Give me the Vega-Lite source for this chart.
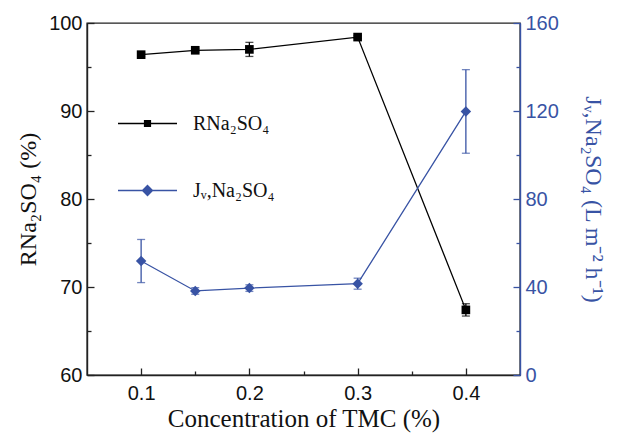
{
  "$schema": "https://vega.github.io/schema/vega-lite/v6.json",
  "width": 433,
  "height": 352,
  "autosize": {"type": "none"},
  "padding": {"left": 87, "top": 23, "right": 102, "bottom": 59},
  "background": "white",
  "config": {
    "view": {"stroke": "#222222", "strokeWidth": 1.4},
    "font": "Liberation Sans",
    "axis": {"grid": false, "ticks": true, "labelFontSize": 20, "labelFont": "Liberation Sans", "titleFont": "Liberation Serif", "titleFontWeight": "normal", "domainWidth": 1.4, "tickWidth": 1.3}
  },
  "datasets": {
    "r": [
      {"series": "R", "c": 0.1, "v": 96.4, "e": 0.2},
      {"series": "R", "c": 0.15, "v": 96.9, "e": 0.2},
      {"series": "R", "c": 0.2, "v": 97.0, "e": 0.8},
      {"series": "R", "c": 0.3, "v": 98.4, "e": 0.15},
      {"series": "R", "c": 0.4, "v": 67.4, "e": 0.7}
    ],
    "j": [
      {"series": "J", "c": 0.1, "v": 51.8, "e": 9.8},
      {"series": "J", "c": 0.15, "v": 38.2, "e": 1.5},
      {"series": "J", "c": 0.2, "v": 39.5, "e": 1.5},
      {"series": "J", "c": 0.3, "v": 41.5, "e": 2.5},
      {"series": "J", "c": 0.4, "v": 119.8, "e": 19}
    ]
  },
  "layer": [
    {
      "data": {"name": "r"},
      "encoding": {
        "x": {
          "field": "c", "type": "quantitative",
          "scale": {"domain": [0.05, 0.45], "nice": false, "zero": false},
          "axis": {
            "title": "Concentration of TMC (%)",
            "titleFontSize": 25, "titleColor": "#111111", "titlePadding": 3,
            "values": [0.1, 0.15, 0.2, 0.25, 0.3, 0.35, 0.4],
            "labelExpr": "round(datum.value * 100) % 10 === 0 ? format(datum.value, '.1f') : ''",
            "ticks": true,
            "tickSize": {"condition": {"test": "round(datum.value * 100) % 10 === 0", "value": -7}, "value": -4},
            "labelPadding": 15, "labelColor": "#111111", "domainColor": "#222222", "tickColor": "#222222"
          }
        },
        "y": {
          "field": "v", "type": "quantitative",
          "scale": {"domain": [60, 100], "nice": false, "zero": false},
          "axis": {
            "title": "RNa₂SO₄ (%)",
            "titleFontSize": 24, "titleColor": "#111111", "titlePadding": 8,
            "values": [60, 65, 70, 75, 80, 85, 90, 95, 100],
            "labelExpr": "datum.value % 10 === 0 ? datum.label : ''",
            "ticks": true,
            "tickSize": {"condition": {"test": "datum.value % 10 === 0", "value": -7}, "value": -4},
            "labelPadding": 12, "labelColor": "#111111", "domainColor": "#222222", "tickColor": "#222222"
          }
        },
        "color": {
          "field": "series", "type": "nominal",
          "scale": {"domain": ["R", "J"], "range": ["#000000", "#3853a4"]},
          "legend": {
            "orient": "none", "legendX": 30, "legendY": 70, "title": null,
            "padding": 0, "rowPadding": 26, "symbolSize": 3481, "symbolStrokeWidth": 1.3,
            "labelOffset": 15, "labelFont": "Liberation Serif", "labelFontSize": 20, "labelColor": "#111111",
            "labelExpr": "datum.value === 'R' ? 'RNa₂SO₄' : 'Jᵥ,Na₂SO₄'",
            "encode": {
              "symbols": {
                "update": {
                  "shape": {"signal": "datum.value === 'R' ? 'M-1,0L1,0M-0.1,-0.1L0.1,-0.1L0.1,0.1L-0.1,0.1Z' : 'M-1,0L1,0M0,-0.17L0.17,0L0,0.17L-0.17,0Z'"},
                  "fill": {"signal": "datum.value === 'R' ? '#000000' : '#3853a4'"},
                  "stroke": {"signal": "datum.value === 'R' ? '#000000' : '#3853a4'"},
                  "fillOpacity": {"value": 1},
                  "strokeWidth": {"value": 1.3}
                }
              }
            }
          }
        }
      },
      "layer": [
        {"mark": {"type": "errorbar", "ticks": {"size": 8}, "thickness": 1.3, "color": "#000000"},
         "encoding": {"yError": {"field": "e"}, "color": {"value": "#000000"}}},
        {"mark": {"type": "line", "strokeWidth": 1.3}},
        {"mark": {"type": "point", "filled": true, "shape": "square", "size": 75, "opacity": 1}}
      ]
    },
    {
      "data": {"name": "j"},
      "encoding": {
        "x": {"field": "c", "type": "quantitative"},
        "y": {
          "field": "v", "type": "quantitative",
          "scale": {"domain": [0, 160], "nice": false, "zero": false},
          "axis": {
            "orient": "right",
            "title": "Jᵥ,Na₂SO₄ (L m⁻² h⁻¹)",
            "titleFontSize": 24, "titleColor": "#3853a4", "titlePadding": 22,
            "values": [0, 20, 40, 60, 80, 100, 120, 140, 160],
            "labelExpr": "datum.value % 40 === 0 ? datum.label : ''",
            "ticks": true,
            "tickSize": {"condition": {"test": "datum.value % 40 === 0", "value": -7}, "value": -4},
            "labelPadding": 12, "labelColor": "#3853a4", "domainColor": "#3853a4", "tickColor": "#3853a4"
          }
        },
        "color": {"field": "series", "type": "nominal"}
      },
      "layer": [
        {"mark": {"type": "errorbar", "ticks": {"size": 8}, "thickness": 1.3, "color": "#3853a4"},
         "encoding": {"yError": {"field": "e"}, "color": {"value": "#3853a4"}}},
        {"mark": {"type": "line", "strokeWidth": 1.3}},
        {"mark": {"type": "point", "filled": true, "shape": "diamond", "size": 110, "opacity": 1}}
      ]
    }
  ],
  "resolve": {"scale": {"y": "independent"}}
}
